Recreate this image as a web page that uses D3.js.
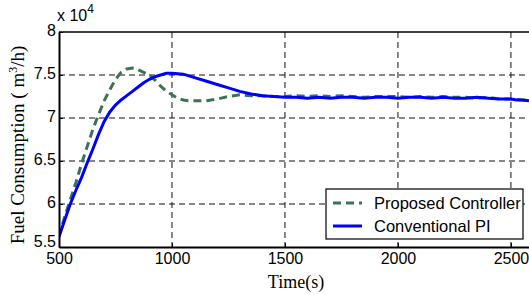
<!DOCTYPE html>
<html>
<head>
<meta charset="utf-8">
<script src="https://cdn.jsdelivr.net/npm/d3@7"></script>
<style>
  body { margin: 0; background: #fff; }
  svg { display: block; }
</style>
</head>
<body>
<script>
// time axis (s) and fuel consumption (x 10^4 m3/h)
var propTime = [500, 525, 550, 575, 600, 625, 650, 675, 700, 725, 750, 775, 800, 825, 850, 875, 900, 925, 950, 975,
    1000, 1025, 1050, 1075, 1100, 1150, 1200, 1250, 1300, 1350, 1400, 1450, 1500, 1550, 1600, 1650, 1700, 1750,
    1800, 1850, 1900, 1950, 2000, 2050, 2100, 2150, 2200, 2250, 2300, 2350, 2400, 2450, 2500, 2550, 2580];
var propVal = [5.62, 5.85, 6.05, 6.25, 6.47, 6.67, 6.87, 7.04, 7.20, 7.33, 7.45, 7.53, 7.57, 7.58, 7.56, 7.53, 7.50, 7.44, 7.37, 7.31,
    7.27, 7.23, 7.21, 7.20, 7.20, 7.20, 7.22, 7.25, 7.27, 7.26, 7.26, 7.25, 7.25, 7.26, 7.25, 7.26, 7.25, 7.26,
    7.25, 7.24, 7.25, 7.25, 7.25, 7.24, 7.25, 7.24, 7.25, 7.24, 7.24, 7.23, 7.24, 7.22, 7.22, 7.21, 7.21];

var convTime = [500, 525, 550, 575, 600, 625, 650, 675, 700, 725, 750, 775, 800, 825, 850, 875, 900, 925, 950, 975,
    1000, 1050, 1100, 1150, 1200, 1250, 1300, 1350, 1400, 1450, 1500, 1550, 1600, 1650, 1700, 1750, 1800, 1850,
    1900, 1950, 2000, 2050, 2100, 2150, 2200, 2250, 2300, 2350, 2400, 2450, 2500, 2525, 2550, 2580];
var convVal = [5.62, 5.81, 6.00, 6.16, 6.31, 6.48, 6.64, 6.81, 6.96, 7.07, 7.15, 7.21, 7.26, 7.31, 7.36, 7.41, 7.45, 7.48, 7.50, 7.52,
    7.52, 7.51, 7.47, 7.43, 7.39, 7.35, 7.31, 7.28, 7.26, 7.25, 7.24, 7.24, 7.23, 7.24, 7.23, 7.24, 7.24, 7.23,
    7.24, 7.24, 7.23, 7.24, 7.24, 7.23, 7.24, 7.23, 7.23, 7.24, 7.23, 7.22, 7.22, 7.21, 7.21, 7.20];

var xTicks = [500, 1000, 1500, 2000, 2500];
var yTicks = [5.5, 6, 6.5, 7, 7.5, 8];
var legendLabels = ["Proposed Controller", "Conventional PI"];

var width = 529, height = 295;
var margin = {top: 32, left: 59, bottom: 48};

var svg = d3.select("body").append("svg")
    .attr("width", width)
    .attr("height", height);

var x = d3.scaleLinear()
    .domain([500, 2580])
    .range([margin.left, width]);

var y = d3.scaleLinear()
    .domain([5.5, 8])
    .range([height - margin.bottom, margin.top]);

var plotH = height - margin.bottom - margin.top;
var plotW = width - margin.left;

// grid
svg.append("g")
    .selectAll("line")
    .data(xTicks.slice(1))
    .enter().append("line")
    .attr("x1", function(d) { return x(d); })
    .attr("x2", function(d) { return x(d); })
    .attr("y1", margin.top)
    .attr("y2", height - margin.bottom)
    .attr("stroke", "#111")
    .attr("stroke-width", 1)
    .attr("stroke-dasharray", "6,4");

svg.append("g")
    .selectAll("line")
    .data(yTicks.slice(1, -1))
    .enter().append("line")
    .attr("x1", margin.left)
    .attr("x2", width)
    .attr("y1", function(d) { return y(d); })
    .attr("y2", function(d) { return y(d); })
    .attr("stroke", "#111")
    .attr("stroke-width", 1)
    .attr("stroke-dasharray", "6,4");

svg.append("defs").append("clipPath").attr("id", "clip")
    .append("rect")
    .attr("x", margin.left).attr("y", margin.top)
    .attr("width", plotW).attr("height", plotH);

var line = d3.line()
    .x(function(d) { return x(d[0]); })
    .y(function(d) { return y(d[1]); });

var propData = d3.zip(propTime, propVal);
var convData = d3.zip(convTime, convVal);

svg.append("path")
    .datum(propData)
    .attr("clip-path", "url(#clip)")
    .attr("d", line)
    .attr("fill", "none")
    .attr("stroke", "#3c7353")
    .attr("stroke-width", 3)
    .attr("stroke-dasharray", "8,5");

svg.append("path")
    .datum(convData)
    .attr("clip-path", "url(#clip)")
    .attr("d", line)
    .attr("fill", "none")
    .attr("stroke", "#0000ff")
    .attr("stroke-width", 3);

// axes
var xAxis = svg.append("g")
    .attr("transform", "translate(0," + (height - margin.bottom) + ")")
    .call(d3.axisBottom(x).tickValues(xTicks).tickSizeInner(-4).tickSizeOuter(0).tickPadding(6).tickFormat(d3.format("d")));

var yAxis = svg.append("g")
    .attr("transform", "translate(" + margin.left + ",0)")
    .call(d3.axisLeft(y).tickValues(yTicks).tickSizeInner(-4).tickSizeOuter(0).tickPadding(3).tickFormat(function(d) { return d; }));

[xAxis, yAxis].forEach(function(g) {
    g.select(".domain").attr("stroke", "#000").attr("stroke-width", 2);
    g.selectAll("text").attr("fill", "#000")
        .style("font-family", "Liberation Sans, Arial, sans-serif")
        .style("font-size", "16px");
});
yAxis.selectAll(".tick text").attr("dy", function(d) { return d === 5.5 ? "-0.05em" : "0.2em"; });

// top border
svg.append("line")
    .attr("x1", margin.left).attr("x2", width)
    .attr("y1", margin.top).attr("y2", margin.top)
    .attr("stroke", "#000").attr("stroke-width", 1.5);

// exponent
var ex = svg.append("text")
    .attr("x", 57).attr("y", 21)
    .style("font-family", "Liberation Sans, Arial, sans-serif")
    .style("font-size", "16px");
ex.append("tspan").text("x 10");
ex.append("tspan").attr("dy", -8).style("font-size", "12px").text("4");

// axis labels
svg.append("text")
    .attr("x", (margin.left + width) / 2 + 2)
    .attr("y", 288)
    .attr("text-anchor", "middle")
    .style("font-family", "Liberation Serif, Times New Roman, serif")
    .style("font-size", "18px")
    .text("Time(s)");

var yl = svg.append("text")
    .attr("transform", "translate(24,145) rotate(-90)")
    .attr("text-anchor", "middle")
    .style("font-family", "Liberation Serif, Times New Roman, serif")
    .style("font-size", "19px");
yl.append("tspan").text("Fuel Consumption ( m");
yl.append("tspan").attr("dy", -7).style("font-size", "12px").text("3");
yl.append("tspan").attr("dy", 7).text("/h)");

// legend
var lg = svg.append("g");
lg.append("rect")
    .attr("x", 326).attr("y", 189)
    .attr("width", 197).attr("height", 50)
    .attr("fill", "#fff")
    .attr("stroke", "#000")
    .attr("stroke-width", 1.2);

var styles = [{c: "#3c7353", dash: "8,5"}, {c: "#0000ff", dash: null}];
legendLabels.forEach(function(name, i) {
    var yy = 203 + i * 23;
    lg.append("line")
        .attr("x1", 333).attr("x2", 362)
        .attr("y1", yy).attr("y2", yy)
        .attr("stroke", styles[i].c)
        .attr("stroke-width", 3)
        .attr("stroke-dasharray", styles[i].dash);
    lg.append("text")
        .attr("x", 374).attr("y", yy + 6)
        .style("font-family", "Liberation Sans, Arial, sans-serif")
        .style("font-size", "16.5px")
        .text(name);
});
</script>
</body>
</html>
